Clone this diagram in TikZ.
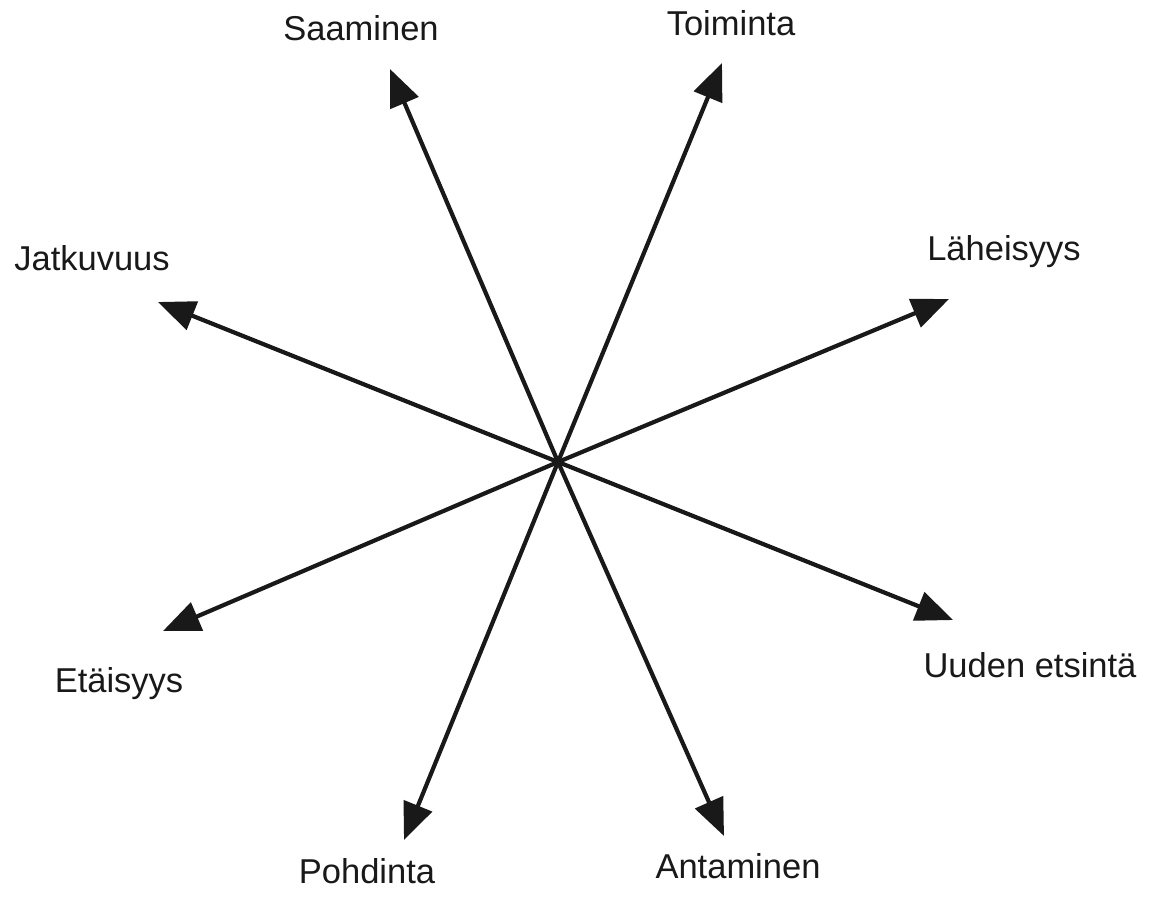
\documentclass[tikz,border=0pt]{standalone}
\usepackage{fontspec}
\setmainfont{Liberation Sans}
\usetikzlibrary{arrows.meta}
\begin{document}
\begin{tikzpicture}[x=1pt,y=-1pt,
  ray/.style={line width=4.2pt,draw=black!90,-{Triangle[length=37pt,width=30pt]}},
  lbl/.style={font=\fontsize{34.5}{40}\selectfont,text=black!90,inner sep=0pt}]
\useasboundingbox[fill=white] (0,0) rectangle (1157,914);
\coordinate (c) at (558,462);
\coordinate (tS) at (390,69);
\coordinate (tT) at (722,63);
\coordinate (tL) at (949,299);
\coordinate (tU) at (953,620);
\coordinate (tA) at (724,836);
\coordinate (tP) at (404,840);
\coordinate (tE) at (163,631);
\coordinate (tJ) at (158,302);
\foreach \t in {tS,tT,tL,tU,tA,tP,tE,tJ} \draw[ray] (c) -- (\t);
\node[lbl] (nS) at (361,28) {Saaminen};
\node[lbl] (nT) at (731,23) {Toiminta};
\node[lbl] (nL) at (1004,252) {Läheisyys};
\node[lbl] (nJ) at (92,258) {Jatkuvuus};
\node[lbl] (nE) at (119,684) {Etäisyys};
\node[lbl] (nU) at (1030,665) {Uuden etsintä};
\node[lbl] (nP) at (367,871) {Pohdinta};
\node[lbl] (nA) at (738,866) {Antaminen};
\end{tikzpicture}
\end{document}
